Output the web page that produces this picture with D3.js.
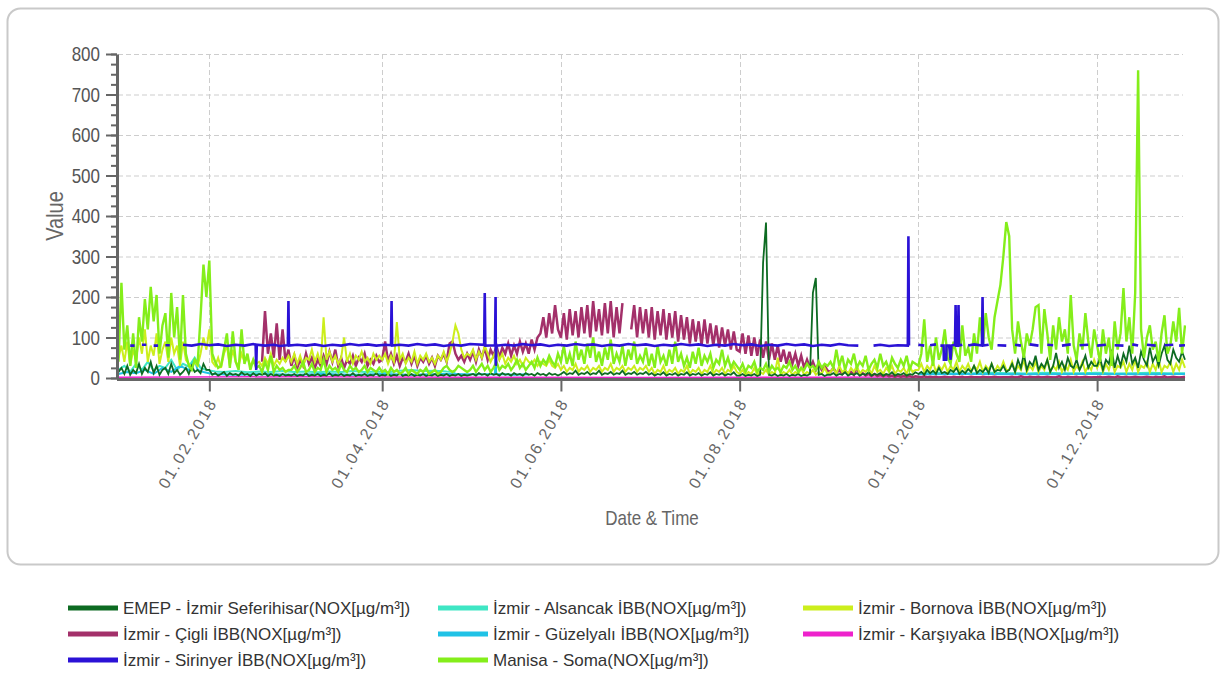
<!DOCTYPE html>
<html>
<head>
<meta charset="utf-8">
<script src="https://cdn.jsdelivr.net/npm/d3@7"></script>
<style>
body { margin: 0; background: #fff; }
text { font-family: "Liberation Sans", Arial, sans-serif; }
</style>
</head>
<body>
<svg id="chart" width="1225" height="675"></svg>
<script>
/* NOX hourly readings, 2018 */

var seriesNames = [
	"EMEP - İzmir Seferihisar(NOX[µg/m³])",
	"İzmir - Alsancak İBB(NOX[µg/m³])",
	"İzmir - Bornova İBB(NOX[µg/m³])",
	"İzmir - Çigli İBB(NOX[µg/m³])",
	"İzmir - Güzelyalı İBB(NOX[µg/m³])",
	"İzmir - Karşıyaka İBB(NOX[µg/m³])",
	"İzmir - Sirinyer İBB(NOX[µg/m³])",
	"Manisa - Soma(NOX[µg/m³])"
];
var seriesColors = ["#0d6b22", "#3fe6c4", "#ccee1c", "#a3306a", "#20c2e6", "#ee22cc", "#2b12d6", "#84ee1a"];

var tickDates = ["2018-02-01", "2018-04-01", "2018-06-01", "2018-08-01", "2018-10-01", "2018-12-01"];
var yTicks = [0, 100, 200, 300, 400, 500, 600, 700, 800];

// daily values, one line per month
var somaStart = "2018-01-01";
var soma = [
	40,235,70,130,30,110,25,150,90,195,120,225,140,205,60,130,160,50,210,100,175,45,205,60,30,20,45,35,150,280,200,
	290,60,40,25,30,70,110,25,115,40,20,120,35,60,20,45,25,30,15,40,20,55,15,30,20,25,15,20,
	20,30,15,25,40,15,20,35,15,25,20,45,15,30,20,25,15,35,20,15,30,20,25,15,20,30,15,25,20,15,25,
	15,20,10,25,15,20,10,15,25,10,20,15,10,20,15,25,10,15,20,10,15,25,30,20,15,20,30,25,20,15,
	20,30,15,25,35,20,30,15,25,40,20,30,25,35,20,30,45,25,35,20,30,40,25,50,30,45,35,55,40,30,60,
	40,80,35,60,30,90,45,70,35,85,50,100,40,65,30,75,45,95,35,60,40,80,30,70,45,90,35,55,40,75,
	30,60,25,80,40,55,30,70,35,90,40,60,30,50,25,65,35,75,30,55,40,60,25,45,35,70,30,50,25,40,30,
	20,35,15,30,25,40,15,25,20,35,15,30,20,25,15,30,25,40,20,30,15,25,20,35,25,30,20,40,25,35,30,
	40,25,70,30,55,20,45,35,60,25,40,30,55,20,35,45,25,60,30,40,20,50,35,25,45,30,55,20,40,35,
	30,60,145,40,80,30,100,45,70,120,50,35,90,60,40,130,55,75,40,110,60,150,80,160,100,70,150,190,230,300,385,
	350,120,60,140,90,50,110,80,120,175,180,60,170,110,45,130,70,150,90,120,60,205,80,45,110,70,160,90,50,120,
	80,40,120,60,100,30,140,70,110,222,90,150,60,210,760,120,50,100,130,70,90,40,110,155,60,80,140,90,173,60,130
];

var bornovaStart = "2018-01-01";
var bornova = [
	50,80,40,90,30,70,45,100,60,120,40,80,55,110,35,70,90,40,100,60,80,30,90,45,35,25,40,30,60,100,70,
	120,40,30,50,25,60,80,30,70,40,30,60,40,50,30,45,35,40,30,50,35,60,30,45,35,50,40,55,
	40,60,35,55,30,50,45,70,40,60,35,150,45,65,40,55,35,50,100,40,60,35,55,45,65,40,50,35,60,45,55,
	45,60,35,55,40,138,45,60,35,50,40,65,35,55,45,60,40,50,35,55,45,65,40,60,90,130,110,70,50,60,
	55,70,45,65,50,80,60,40,55,70,45,60,35,50,40,55,35,45,30,50,40,35,45,30,40,35,30,45,30,25,35,
	20,30,15,25,20,35,15,25,20,30,15,25,20,30,15,25,20,35,15,25,20,30,15,25,20,30,15,25,20,30,
	15,25,10,20,15,30,10,20,15,25,10,20,15,30,10,20,15,25,10,20,15,30,10,20,15,25,10,20,15,30,15,
	10,20,8,15,10,25,8,15,10,20,8,15,10,50,8,15,10,20,8,15,10,25,8,15,10,20,8,15,10,25,10,
	15,25,10,30,15,20,10,25,15,30,10,20,15,25,10,30,15,20,10,25,15,30,10,20,15,25,10,30,15,20,
	20,35,15,30,20,40,15,30,20,35,15,30,20,40,15,30,20,35,15,30,20,40,15,30,20,35,15,30,20,40,20,
	20,40,15,30,20,45,15,30,20,40,15,30,20,45,15,30,20,40,15,30,20,45,15,30,20,40,15,30,20,45,
	25,40,15,35,20,45,15,30,25,40,15,35,20,45,15,30,25,40,15,35,20,45,15,30,25,40,15,35,20,45,25
];

var cigliStart = "2018-02-19";
var cigli = [
	40,165,60,110,50,135,45,120,40,70,
	30,55,25,45,30,60,35,50,25,45,30,55,35,65,40,70,30,50,25,45,35,55,30,50,40,60,30,45,35,55,40,
	45,90,40,60,35,55,30,50,40,60,35,55,30,50,40,55,35,50,30,55,45,60,40,85,90,60,45,55,40,60,
	45,65,40,70,50,75,45,70,55,80,50,75,60,85,55,80,60,90,65,85,60,95,70,100,110,150,100,160,110,180,120,
	100,160,95,170,105,165,100,175,110,180,100,190,115,170,105,185,110,190,100,175,110,185,null,null,120,180,100,175,110,170,
	100,175,95,165,105,170,95,160,100,165,90,155,95,150,85,145,90,140,80,145,85,135,80,130,75,125,80,120,70,115,70,
	65,110,60,105,55,100,55,95,50,90,45,85,45,80,40,70,35,65,35,60,30,55,25,45,25,40,20,35,20,30,18,
	15,25,12,20,10,18,10,15,8,25,8,12,6,10,5,10,5,8,4,8,4,6,3,6,3,5,3,5,2,4,
	3,2,4,2,3,2,3,1,2,3,2,1,3,2,2,3,1,2,3,2,2,1,3,2,1,2,3,2,1,2,2,
	2,3,1,2,4,2,1,3,2,2,3,1,2,3,2,1,2,4,2,1,3,2,2,3,1,2,3,2,1,2,
	2,3,1,2,3,2,1,4,2,2,3,1,2,3,2,1,2,3,2,1,3,2,2,4,1,2,3,2,1,2,3
];

var emepStart = "2018-01-01";
var emep = [
	15,25,10,30,8,20,12,35,10,25,15,40,12,30,8,20,25,10,35,12,20,8,15,25,10,30,15,20,12,35,20,
	20,8,12,6,10,15,5,12,8,10,6,14,8,10,5,12,6,10,8,12,5,10,6,8,5,10,6,8,
	6,10,5,8,6,12,5,8,6,10,5,8,6,12,5,8,6,10,5,8,6,12,5,8,6,10,5,8,6,12,5,
	8,6,10,5,8,6,12,5,8,6,10,5,8,6,10,5,8,6,10,5,8,6,10,5,8,6,10,5,8,6,
	8,10,6,12,8,10,6,12,8,10,6,12,8,10,6,12,8,10,6,12,8,10,6,12,8,10,6,12,8,10,6,
	10,15,8,12,10,18,8,12,10,15,8,12,10,18,8,12,10,15,8,12,10,18,8,12,10,15,8,12,10,15,
	8,12,6,10,8,14,6,10,8,12,6,10,8,14,6,10,8,12,6,10,8,14,6,10,8,12,6,10,8,14,6,
	6,10,5,8,6,10,5,8,285,384,8,6,10,5,8,6,10,5,8,6,10,5,8,6,10,210,247,8,10,5,8,
	8,12,6,10,8,14,6,10,8,12,6,10,8,14,6,10,8,12,6,10,8,14,6,10,8,12,6,10,8,14,
	10,15,8,20,12,18,10,25,12,15,10,20,15,25,10,18,12,22,15,30,12,20,15,25,12,35,15,20,18,30,15,
	20,35,15,45,25,60,20,40,30,55,20,35,25,45,15,30,62,25,40,20,50,30,25,45,20,35,55,25,40,30,
	30,50,20,45,35,70,25,55,30,60,40,80,35,50,25,65,45,30,75,40,55,30,60,80,45,35,70,50,40,65,45
];

// sparser stations: [day of year, value], null = no data
var sirinyer = [
	[4,80],[5.5,80],[6,null],[8,82],[9.5,82],[10,null],[12,80],[13.5,80],[14,null],[16,81],[17.5,81],[18,null],[20,82],[21,null],
	[22,82],[25,80],[28,84],[31,81],[34,83],[37,79],[40,82],[43,80],[46,84],[46.8,82],[47,20],[47.2,82],[50,80],[53,82],[55,79],
	[57.8,81],[58,190],[58.2,80],[61,82],[64,80],[67,83],[70,79],[73,82],[76,80],[79,84],[82,81],[85,83],[88,80],[91,82],
	[93,81],[93.2,190],[93.4,80],[96,82],[99,80],[102,84],[105,81],[108,83],[111,79],[114,82],[117,80],[120,84],
	[124.8,82],[125,210],[125.2,80],[128.5,81],[128.7,200],[128.8,30],[129,80],[132,82],[135,80],[138,84],[141,81],[144,83],
	[147,79],[150,82],[153,80],[156,84],[159,81],[162,83],[165,79],[168,82],[171,80],[174,84],[177,81],[180,83],[183,79],
	[186,82],[189,80],[192,84],[195,81],[198,83],[201,79],[204,82],[207,80],[210,84],[213,81],[216,83],[219,79],[222,82],
	[225,80],[228,84],[231,81],[234,83],[237,79],[240,82],[243,80],[246,84],[249,81],[252.5,80],[253,null],
	[257.7,80],[260,82],[263,79],[266,81],[269.4,80],[269.6,350],[269.8,80],[270,null],
	[273,82],[275,80],[276,null],[277,81],[279,83],[280,null],[280.5,80],[281.6,80],[281.7,45],[282.5,45],[282.6,80],[283.5,80],
	[284,45],[284.3,80],[285.5,82],[285.7,180],[285.9,80],[286.5,80],[286.7,180],[286.9,80],[288,82],[289,null],
	[290,80],[292,83],[294.7,80],[294.9,200],[295.1,80],[297,82],[298,null],[300,81],[303,80],[304,null],[306,82],[308,80],[309,null],
	[311,83],[314,80],[315,null],[317,82],[319,81],[320,null],[322,80],[325,83],[326,null],[328,81],[331,82],[332,null],
	[334,80],[337,82],[338,null],[340,81],[343,80],[344,null],[346,83],[348,80],[349,null],[351,82],[354,80],[355,null],
	[357,81],[360,82],[361,null],[362,80],[364,81]
];

var alsancak = [
	[0,20],[2,30],[4,15],[6,35],[8,20],[10,40],[12,18],[14,30],[16,25],[18,45],[20,20],[22,35],[24,28],[26,50],[28,25],[30,20],
	[33,16],[36,15],[40,17],[44,14],[48,16],[52,15],[56,17],[60,15],[64,16],[68,14],[72,16],[76,15],[80,17],[84,15],[88,16],
	[92,14],[96,18],[100,20],[104,17],[108,18],[112,16],[115,15],[116,null],
	[274,12],[280,13],[286,11],[292,12],[298,13],[304,12],[310,11],[316,13],[322,12],[328,12],[334,13],[340,11],[346,12],
	[352,13],[358,12],[364,12]
];

var guzelyali = [
	[0,10],[3,15],[6,12],[9,20],[12,10],[15,25],[18,15],[21,30],[24,20],[26,45],[27,20],[29,15],[32,10],[40,8],[50,10],
	[60,8],[70,10],[80,8],[90,10],[100,8],[110,10],[120,9],[128.5,10],[128.7,60],[128.9,10],[135,8],[140,9],[141,null],
	[273,9],[290,10],[310,9],[330,10],[350,9],[364,10]
];

var karsiyaka = [[0,2],[60,3],[120,2],[180,1],[240,2],[300,3],[364,2]];

(function () {

var svg = d3.select("#chart");
var t0 = new Date(2018, 0, 1);
var parse = d3.timeParse("%Y-%m-%d");

function fromDaily(start, values) {
	var s = parse(start);
	return values.map(function (v, i) { return { date: d3.timeDay.offset(s, i), value: v }; });
}
function fromPairs(pairs) {
	return pairs.map(function (p) { return { date: new Date(+t0 + p[0] * 864e5), value: p[1] }; });
}

// drawing order: bottom to top
var layers = [
	{ i: 5, data: fromPairs(karsiyaka), w: 1.5 },
	{ i: 1, data: fromPairs(alsancak), w: 2 },
	{ i: 4, data: fromPairs(guzelyali), w: 2 },
	{ i: 3, data: fromDaily(cigliStart, cigli), w: 2.5 },
	{ i: 2, data: fromDaily(bornovaStart, bornova), w: 2 },
	{ i: 0, data: fromDaily(emepStart, emep), w: 1.8 },
	{ i: 7, data: fromDaily(somaStart, soma), w: 2.4 },
	{ i: 6, data: fromPairs(sirinyer), w: 2.6 }
];

var x = d3.scaleTime().domain([t0, new Date(2018, 11, 31)]).range([118.5, 1185]);
var y = d3.scaleLinear().domain([0, 800]).range([378, 54]);

// outer frame
svg.append("rect").attr("x", 7.5).attr("y", 8.5).attr("width", 1211).attr("height", 556)
	.attr("rx", 13).attr("fill", "none").attr("stroke", "#c9c9c9").attr("stroke-width", 2);

// grid
var grid = svg.append("g").attr("stroke", "#cdcdcd").attr("stroke-dasharray", "5,3").attr("stroke-width", 1);
grid.selectAll(".hg").data(yTicks.slice(1)).enter().append("line")
	.attr("x1", 118).attr("x2", 1183)
	.attr("y1", function (d) { return y(d) + 0.5; }).attr("y2", function (d) { return y(d) + 0.5; });
grid.selectAll(".vg").data(tickDates.map(parse)).enter().append("line")
	.attr("y1", 54).attr("y2", 378)
	.attr("x1", function (d) { return Math.round(x(d)) + 0.5; }).attr("x2", function (d) { return Math.round(x(d)) + 0.5; });

// series
svg.append("clipPath").attr("id", "plotclip").append("rect")
	.attr("x", 118).attr("y", 40).attr("width", 1068).attr("height", 338);

var line = d3.line()
	.defined(function (d) { return d.value != null; })
	.x(function (d) { return x(d.date); })
	.y(function (d) { return y(d.value); });

svg.append("g").attr("clip-path", "url(#plotclip)")
	.selectAll("path").data(layers).enter().append("path")
	.attr("fill", "none")
	.attr("stroke", function (d) { return seriesColors[d.i]; })
	.attr("stroke-width", function (d) { return d.w; })
	.attr("stroke-linejoin", "miter")
	.attr("d", function (d) { return line(d.data); });

// y axis, minor then major ticks
var yMinor = svg.append("g").attr("transform", "translate(117,0)")
	.call(d3.axisLeft(y).tickValues(d3.range(0, 801, 25)).tickSize(6).tickSizeOuter(0).tickFormat(""));
yMinor.select(".domain").remove();
yMinor.selectAll("line").attr("stroke", "#666").attr("stroke-width", 2);

var yAxis = svg.append("g").attr("transform", "translate(117,0)")
	.call(d3.axisLeft(y).tickValues(yTicks).tickSize(11).tickSizeOuter(0).tickPadding(6));
yAxis.select(".domain").attr("stroke", "#666").attr("stroke-width", 3);
yAxis.selectAll("line").attr("stroke", "#666").attr("stroke-width", 2);
yAxis.selectAll("text").attr("fill", "#555").style("font-size", "17px")
	.attr("transform", "scale(1,1.2)");

// x axis
var xAxis = svg.append("g").attr("transform", "translate(0,379.5)")
	.call(d3.axisBottom(x).tickValues(tickDates.map(parse)).tickSize(12).tickSizeOuter(0)
		.tickFormat(d3.timeFormat("%d.%m.%Y")));
xAxis.select(".domain").attr("d", "M117,0H1185").attr("stroke", "#666").attr("stroke-width", 3);
xAxis.selectAll("line").attr("stroke", "#666").attr("stroke-width", 2);
xAxis.selectAll("text")
	.attr("x", 0).attr("y", 0).attr("dy", "0.35em")
	.attr("transform", "translate(3,20) rotate(-60)")
	.style("text-anchor", "end").style("font-size", "16px").style("letter-spacing", "2.1px")
	.attr("fill", "#666");

// axis titles
svg.append("text").attr("transform", "translate(63,216) rotate(-90) scale(1,1.2)")
	.attr("text-anchor", "middle").attr("fill", "#666").style("font-size", "20px").text("Value");
svg.append("text").attr("transform", "translate(652,525) scale(1,1.2)")
	.attr("text-anchor", "middle").attr("fill", "#666").style("font-size", "17px").text("Date & Time");

// legend, three columns filled row by row
var colX = [68, 438, 803];
var legend = svg.append("g").selectAll("g").data(seriesNames).enter().append("g")
	.attr("transform", function (d, i) { return "translate(" + colX[i % 3] + "," + (608 + Math.floor(i / 3) * 26) + ")"; });
legend.append("line").attr("x1", 0).attr("x2", 50)
	.attr("stroke", function (d, i) { return seriesColors[i]; }).attr("stroke-width", 5);
legend.append("text").attr("x", 55).attr("dy", "0.36em")
	.attr("fill", "#333").style("font-size", "17px")
	.text(function (d) { return d; });

})();
</script>
</body>
</html>
